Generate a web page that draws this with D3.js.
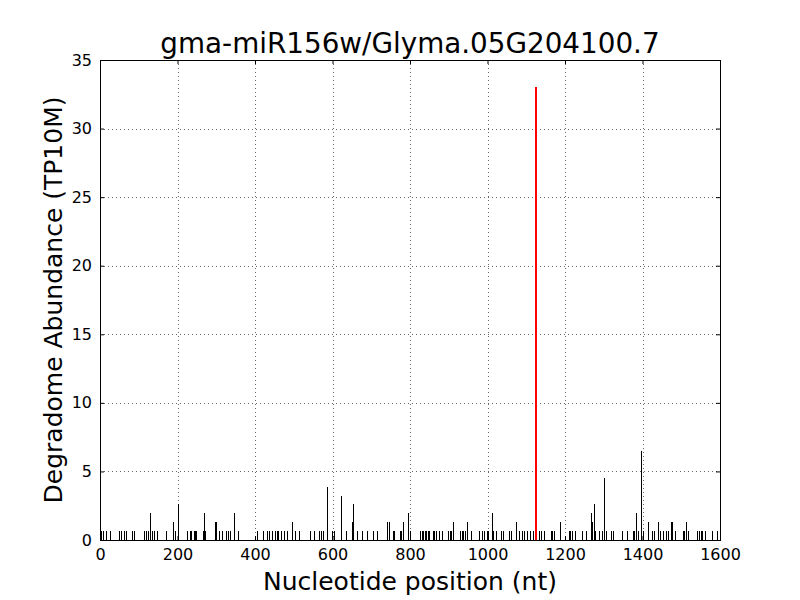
<!DOCTYPE html>
<html>
<head>
<meta charset="utf-8">
<script src="https://d3js.org/d3.v7.min.js"></script>
<style>
  body { margin: 0; background: #fff; }
  text { font-family: "DejaVu Sans", sans-serif; }
</style>
</head>
<body>
<svg id="chart" width="800" height="600"></svg>
<script>
  // cleavage site positions (nt) and abundances (TP10M)
  const positions = [3, 8, 15, 27, 50, 55, 63, 67, 83, 89, 114, 119, 123, 130, 135, 139, 148, 171, 188, 194, 200,
    224, 233, 236, 242, 245, 249, 266, 269, 272, 296, 299, 307, 315, 325, 330, 335, 347, 357,
    404, 421, 430, 437, 443, 452, 456, 460, 468, 476, 483, 496, 503, 514,
    542, 553, 565, 570, 576, 587, 598, 603, 621, 623, 636, 650, 654, 662, 675, 689, 704, 716,
    741, 746, 755, 759, 773, 778, 783, 796, 800,
    826, 830, 834, 838, 842, 846, 850, 859, 862, 867, 876, 883, 898, 902, 905, 912, 929, 933, 938, 942, 948,
    957, 978, 985, 991, 998, 1002, 1012, 1015, 1021, 1035, 1041, 1055, 1061, 1074, 1081, 1088, 1095, 1102, 1109, 1117,
    1133, 1138, 1145, 1164, 1167, 1172, 1188, 1211, 1214, 1217, 1226, 1245, 1254, 1267, 1270, 1274, 1277,
    1289, 1295, 1301, 1305, 1318, 1323, 1346, 1359, 1376, 1379, 1383, 1388, 1397, 1402, 1414, 1425, 1430,
    1441, 1445, 1452, 1460, 1467, 1473, 1477, 1485, 1505, 1508, 1511, 1518, 1540, 1547, 1550, 1553, 1561, 1579, 1592];
  const abundance = [0.65, 0.65, 0.65, 0.65, 0.65, 0.65, 0.65, 0.65, 0.65, 0.65, 0.65, 0.65, 0.65, 1.94, 0.65, 0.65, 0.65, 0.65, 1.3, 0.65, 2.59,
    0.65, 0.65, 0.65, 0.65, 0.65, 0.65, 0.65, 1.94, 0.65, 1.3, 1.3, 0.65, 0.65, 0.65, 0.65, 0.65, 1.94, 0.65,
    0.65, 0.65, 0.65, 0.65, 0.65, 0.65, 0.65, 0.65, 0.65, 0.65, 0.65, 1.3, 0.65, 0.65,
    0.65, 0.65, 0.65, 0.65, 0.65, 3.89, 0.65, 0.65, 1.3, 3.24, 0.65, 1.3, 2.59, 0.65, 0.65, 0.65, 0.65, 0.65,
    1.3, 1.3, 0.65, 0.65, 0.65, 0.65, 1.3, 1.94, 0.65,
    0.65, 0.65, 0.65, 0.65, 0.65, 0.65, 0.65, 0.65, 0.65, 0.65, 0.65, 0.65, 0.65, 0.65, 0.65, 1.3, 0.65, 0.65, 0.65, 0.65, 1.3,
    0.65, 0.65, 0.65, 0.65, 0.65, 0.65, 1.94, 0.65, 0.65, 0.65, 0.65, 0.65, 0.65, 1.3, 0.65, 0.65, 0.65, 0.65, 0.65, 0.65,
    0.65, 0.65, 0.65, 0.65, 0.65, 0.65, 1.3, 0.65, 0.65, 0.65, 0.65, 0.65, 0.65, 1.94, 1.3, 2.59, 0.65,
    0.65, 0.65, 4.54, 0.65, 0.65, 0.65, 0.65, 0.65, 0.65, 0.65, 1.94, 0.65, 6.48, 0.65, 1.3, 0.65, 0.65,
    1.3, 0.65, 0.65, 0.65, 0.65, 1.3, 1.3, 0.65, 0.65, 0.65, 1.3, 0.65, 0.65, 0.65, 0.65, 0.65, 0.65, 0.65, 0.65];
  // miRNA target site
  const sitePos = [1125];
  const siteAbundance = [33.05];

  const xTicks = [0, 200, 400, 600, 800, 1000, 1200, 1400, 1600];
  const yTicks = [0, 5, 10, 15, 20, 25, 30, 35];
  const title = "gma-miR156w/Glyma.05G204100.7";

  const svg = d3.select("#chart");
  const margin = { top: 60, right: 80, bottom: 60, left: 100 };
  const width = 800 - margin.left - margin.right;
  const height = 600 - margin.top - margin.bottom;

  const x = d3.scaleLinear().domain([0, 1600]).range([0, width]);
  const y = d3.scaleLinear().domain([0, 35]).range([height, 0]);

  const g = svg.append("g").attr("transform", "translate(" + margin.left + "," + margin.top + ")");

  // grid
  g.append("g").selectAll("line").data(xTicks.slice(1, -1)).enter().append("line")
    .attr("x1", d => Math.round(x(d)) + 0.5).attr("x2", d => Math.round(x(d)) + 0.5)
    .attr("y1", 0).attr("y2", height)
    .attr("stroke", "#000").attr("stroke-width", 0.6).attr("stroke-dasharray", "1,3");
  g.append("g").selectAll("line").data(yTicks.slice(1, -1)).enter().append("line")
    .attr("y1", d => Math.round(y(d)) + 0.5).attr("y2", d => Math.round(y(d)) + 0.5)
    .attr("x1", 0).attr("x2", width)
    .attr("stroke", "#000").attr("stroke-width", 0.6).attr("stroke-dasharray", "1,3");

  // bars
  const data = positions.map((p, i) => ({ p: p, v: abundance[i] }));
  g.append("g").selectAll("line").data(data).enter().append("line")
    .attr("x1", d => Math.round(x(d.p)) + 0.5).attr("x2", d => Math.round(x(d.p)) + 0.5)
    .attr("y1", y(0)).attr("y2", d => y(d.v))
    .attr("stroke", "#000").attr("stroke-width", 1)
    .attr("shape-rendering", "crispEdges");

  const sites = sitePos.map((p, i) => ({ p: p, v: siteAbundance[i] }));
  g.append("g").selectAll("line").data(sites).enter().append("line")
    .attr("x1", d => Math.round(x(d.p))).attr("x2", d => Math.round(x(d.p)))
    .attr("y1", y(0)).attr("y2", d => y(d.v))
    .attr("stroke", "#ff0000").attr("stroke-width", 2)
    .attr("shape-rendering", "crispEdges");

  // axes, ticks pointing inward
  const fontSize = "16px";
  const xb = g.append("g").attr("transform", "translate(0," + height + ")")
    .call(d3.axisBottom(x).tickValues(xTicks).tickFormat(d3.format("d")).tickSizeInner(-4).tickSizeOuter(0).tickPadding(9));
  const yl = g.append("g")
    .call(d3.axisLeft(y).tickValues(yTicks).tickSizeInner(-4).tickSizeOuter(0).tickPadding(8));
  const xt = g.append("g")
    .call(d3.axisTop(x).tickValues(xTicks).tickFormat("").tickSizeInner(-4).tickSizeOuter(0));
  const yr = g.append("g").attr("transform", "translate(" + width + ",0)")
    .call(d3.axisRight(y).tickValues(yTicks).tickFormat("").tickSizeInner(-4).tickSizeOuter(0));
  [xb, yl, xt, yr].forEach(a => {
    a.select(".domain").remove();
    a.selectAll("line").attr("stroke", "#000");
    a.selectAll("text").attr("font-size", fontSize).attr("font-family", "DejaVu Sans").attr("fill", "#000");
  });

  // frame
  g.append("rect").attr("x", 0.5).attr("y", 0.5).attr("width", width).attr("height", height)
    .attr("fill", "none").attr("stroke", "#000").attr("stroke-width", 1);

  // labels
  svg.append("text").attr("x", 410).attr("y", 53).attr("text-anchor", "middle")
    .attr("font-size", "27.8px").text(title);
  svg.append("text").attr("x", 410).attr("y", 590).attr("text-anchor", "middle")
    .attr("font-size", "25px").text("Nucleotide position (nt)");
  svg.append("text").attr("transform", "translate(62,300) rotate(-90)").attr("text-anchor", "middle")
    .attr("font-size", "25px").text("Degradome Abundance (TP10M)");
</script>
</body>
</html>
